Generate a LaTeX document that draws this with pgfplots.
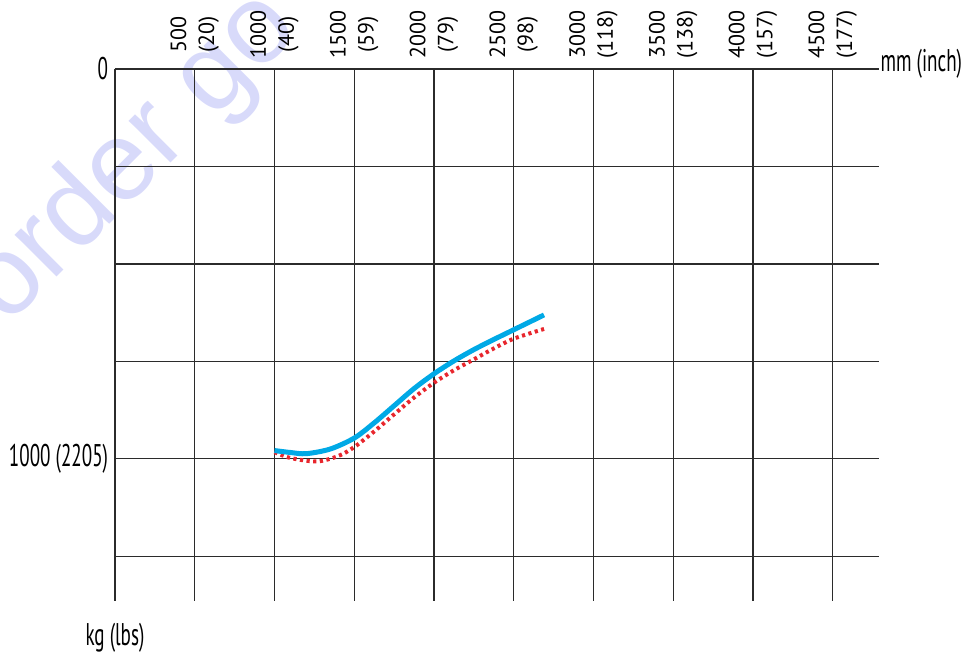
\documentclass[border=0pt]{standalone}
\usepackage{fontspec}
\setmainfont{PT Sans}
\newfontfamily\condfont{PT Sans}[FakeStretch=0.61]
\newfontfamily\wmfont{Liberation Sans}
\usepackage{pgfplots}
\pgfplotsset{compat=1.18}
\definecolor{gridcol}{HTML}{2B2B2B}
\definecolor{curveblue}{HTML}{00A9E6}
\definecolor{curvered}{HTML}{E8262D}
\definecolor{wmark}{RGB}{216,218,250}

\begin{document}
\begin{tikzpicture}[x=1pt,y=1pt]
\path[use as bounding box] (-86.25,-40.5) rectangle (642,450.75);
\begin{scope}
\clip (-86.25,-40.5) rectangle (642,450.75);
\node[text=wmark, font=\wmfont\fontsize{84}{84}\selectfont, rotate=45,
      anchor=base west, inner sep=0pt] at (-81,205.5) {order go};
\end{scope}
\begin{axis}[
  at={(0,0)}, anchor=south west,
  scale only axis, width=573pt, height=399pt,
  xmin=0, xmax=4790, ymin=0, ymax=1365, y dir=reverse,
  axis line style={draw=none},
  major tick length=0pt,
  xtick={0,500,...,4500}, ytick={0,250,...,1250},
  grid=major, major grid style={gridcol, line width=1pt},
  xticklabel pos=right,
  xticklabels={,{500\\(20)},{1000\\(40)},{1500\\(59)},{2000\\(79)},{2500\\(98)},
    {3000\\(118)},{3500\\(138)},{4000\\(157)},{4500\\(177)}},
  xticklabel style={rotate=90, anchor=center, align=center, inner sep=0pt,
    font=\fontsize{16.5}{21}\selectfont},
  xticklabel shift=26pt,
  yticklabels={{0\hspace{6pt}},,,,1000 (2205),},
  yticklabel style={anchor=east, inner sep=0pt, xshift=-5pt,
    font=\condfont\fontsize{23.5}{28}\selectfont},
  clip=false,
]
% dotted red curve
\addplot[curvered, line width=3pt, dash pattern=on 2.4pt off 2.6pt, smooth] coordinates {
  (1000,983) (1100,998) (1265,1007) (1400,993) (1500,970) (1625,930) (1750,886)
  (1875,843) (2000,805) (2125,773) (2250,745) (2375,717) (2500,692) (2690,667)};
% solid blue curve
\addplot[curveblue, line width=3.75pt, smooth] coordinates {
  (1000,979) (1100,984) (1200,987) (1350,975) (1500,947) (1625,908) (1750,864)
  (1875,820) (2000,782) (2125,749) (2250,720) (2375,694) (2500,669) (2690,631)};
\node[anchor=base west, inner sep=0pt, xshift=1pt, yshift=-2.25pt,
      font=\condfont\fontsize{23.5}{28}\selectfont] at (axis cs:4790,0) {mm (inch)};
\node[anchor=base, inner sep=0pt, yshift=-33pt,
      font=\condfont\fontsize{23.5}{28}\selectfont] at (axis cs:0,1365) {kg (lbs)};
\end{axis}
\end{tikzpicture}
\end{document}
